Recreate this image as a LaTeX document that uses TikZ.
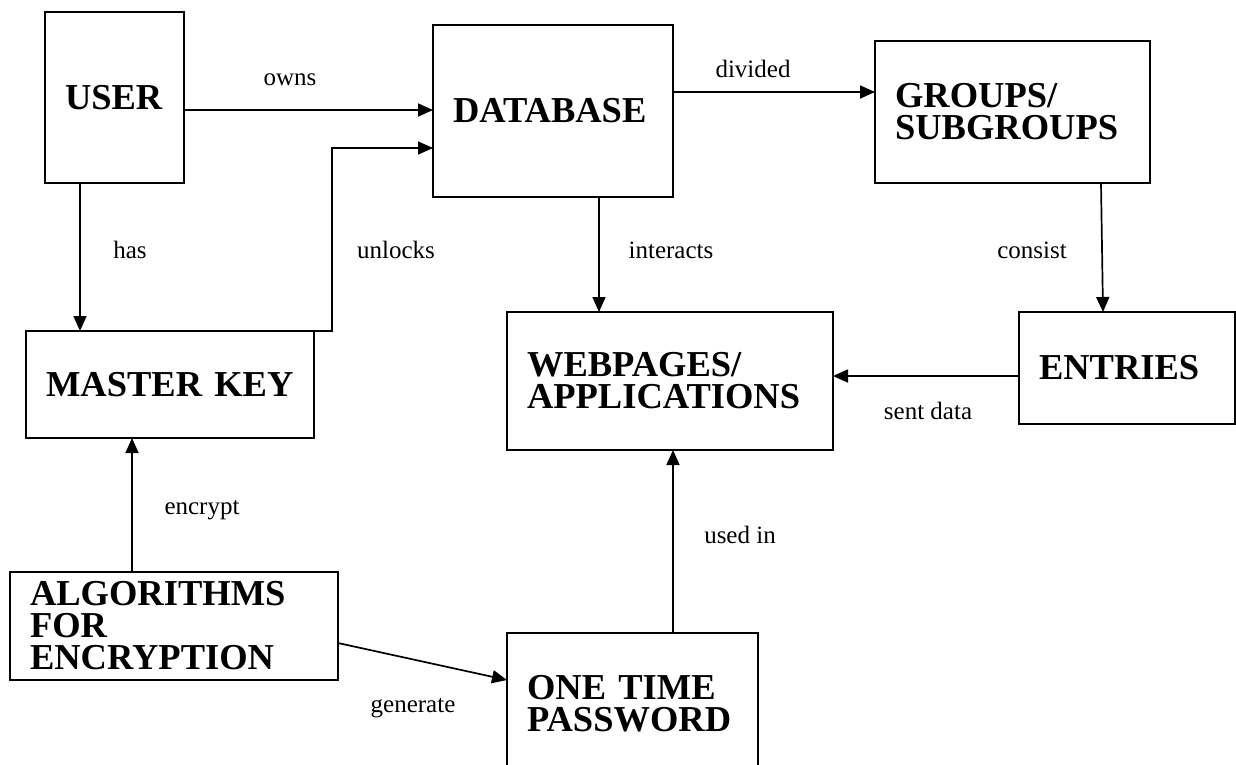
\documentclass[tikz,border=0pt]{standalone}
\usepackage{fontspec}
\setmainfont{Liberation Serif}
\usetikzlibrary{arrows.meta}
\begin{document}
\begin{tikzpicture}[x=1pt,y=-1pt,
  box/.style={draw,line width=1.8pt,rectangle,inner xsep=20pt,inner ysep=0pt,outer sep=0pt,
    align=left,font=\fontsize{36.5}{32}\selectfont\bfseries},
  lbl/.style={font=\fontsize{25}{28}\selectfont,inner sep=0pt},
  conn/.style={line width=1.7pt,-{Triangle[length=15pt,width=13pt]}}]
\useasboundingbox (0,0) rectangle (1236,764);
\clip (0,0) rectangle (1236,764);
\node[box,text width=99pt,minimum height=171pt] (user) at (114.5,97.5) {USER};
\node[box,text width=200pt,minimum height=172pt] (db) at (553,111) {DATABASE};
\node[box,text width=235pt,minimum height=142pt] (grp) at (1012.5,112) {GROUPS/\\SUBGROUPS};
\node[box,text width=248pt,minimum height=107pt] (mk) at (170,384.5) {MASTER KEY};
\node[box,text width=286pt,minimum height=138pt] (web) at (670,381) {WEBPAGES/\\APPLICATIONS};
\node[box,text width=176pt,minimum height=112pt] (ent) at (1127,368) {ENTRIES};
\node[box,text width=288pt,minimum height=108pt] (alg) at (174,626) {ALGORITHMS\\FOR\\ENCRYPTION};
\node[box,text width=211pt,minimum height=141pt] (otp) at (632.5,703.5) {ONE TIME\\PASSWORD};
% connectors
\draw[conn] ([yshift=-12.5pt]user.east) -- ([yshift=-12.5pt]user.east -| db.west);
\coordinate (u1) at (332,148);
\draw[conn] ([xshift=60pt]mk.north) -| (u1) -- (u1 -| db.west);
\draw[conn] ([xshift=-34.5pt]user.south) -- ([xshift=-34.5pt]user.south |- mk.north);
\draw[conn] ([xshift=-42pt]alg.north) -- ([xshift=-42pt]alg.north |- mk.south);
\draw[conn] ([yshift=19pt]db.east) -- ([yshift=19pt]db.east -| grp.west);
\draw[conn] ([xshift=46pt]db.south) -- ([xshift=46pt]db.south |- web.north);
\draw[conn] ([xshift=88.5pt]grp.south) -- ([xshift=-24pt]ent.north);
\draw[conn] ([yshift=-8pt]ent.west) -- ([yshift=-8pt]ent.west -| web.east);
\draw[conn] ([xshift=40.5pt]otp.north) -- ([xshift=40.5pt]otp.north |- web.south);
\draw[conn] ([yshift=-17pt]alg.east) -- ([yshift=23.5pt]otp.west);
% labels
\node[lbl] (lowns) at (290,80) {owns};
\node[lbl] (lhas) at (130,250) {has};
\node[lbl] (lunlocks) at (396,250) {unlocks};
\node[lbl] (linteracts) at (671,250) {interacts};
\node[lbl] (ldivided) at (753,69) {divided};
\node[lbl] (lconsist) at (1032,250) {consist};
\node[lbl] (lsent) at (928,411) {sent data};
\node[lbl] (lencrypt) at (202,510) {encrypt};
\node[lbl] (lused) at (740,535) {used in};
\node[lbl] (lgen) at (413,708) {generate};
\end{tikzpicture}
\end{document}
